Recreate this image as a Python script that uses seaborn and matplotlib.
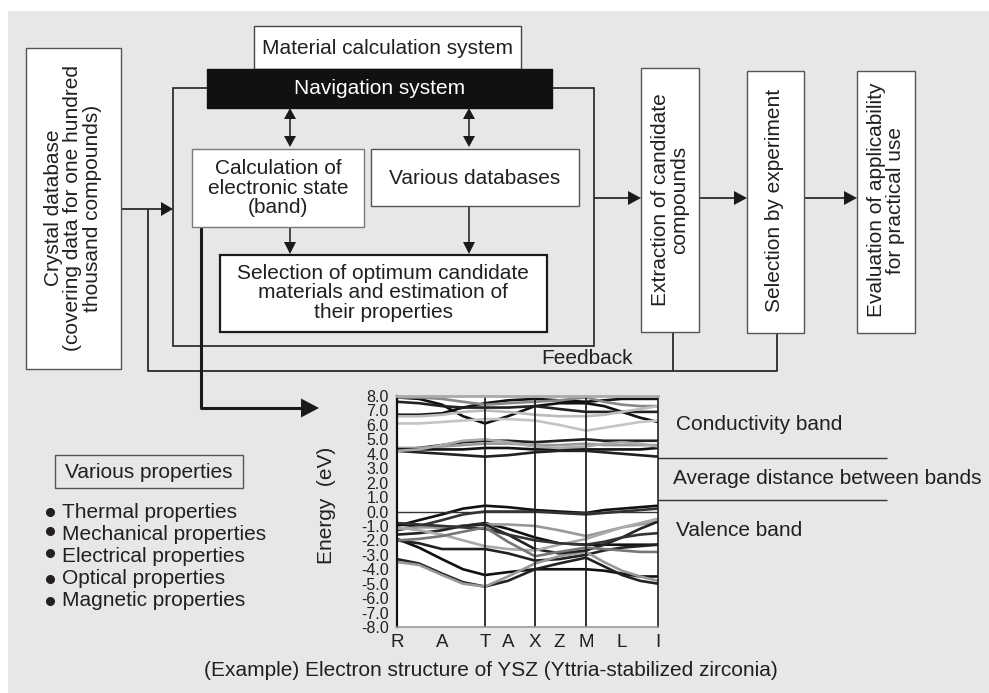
import numpy as np
import pandas as pd
import matplotlib.pyplot as plt
import seaborn as sns
from matplotlib.patches import Rectangle, Polygon

# k-path positions along R-T-X-M-I and symmetry labels
k_path = [0, 22, 45, 66, 88, 111, 138, 162, 189, 207, 225, 243, 261]
k_ticks = [0, 45, 88, 111, 138, 162, 189, 225, 261]
k_labels = ['R', 'A', 'T', 'A', 'X', 'Z', 'M', 'L', 'I']
k_lines = [88, 138, 189]
e_ticks = [8.0, 7.0, 6.0, 5.0, 4.0, 3.0, 2.0, 1.0, 0.0,
           -1.0, -2.0, -3.0, -4.0, -5.0, -6.0, -7.0, -8.0]

# conduction bands (eV)
cb1 = [6.7, 6.7, 6.8, 7.2, 7.5, 7.7, 7.8, 7.7, 7.6, 7.7, 7.8, 7.8, 7.8]
cb2 = [7.9, 7.8, 7.4, 6.6, 6.1, 6.6, 7.3, 7.5, 7.5, 7.3, 6.9, 6.5, 6.2]
cb3 = [7.6, 7.5, 7.3, 7.2, 7.2, 7.2, 7.3, 7.1, 6.9, 6.9, 6.9, 6.9, 6.9]
cb4 = [7.9, 7.9, 7.8, 7.6, 7.4, 7.5, 7.6, 7.7, 7.9, 7.6, 7.4, 7.3, 7.3]
cb5 = [6.1, 6.1, 6.2, 6.3, 6.4, 6.4, 6.3, 6.0, 5.6, 5.8, 6.0, 6.2, 6.3]
cb6 = [6.6, 6.6, 6.7, 6.9, 7.0, 6.9, 6.7, 6.6, 6.6, 6.7, 6.9, 7.1, 7.3]
# 4-5 eV bands
mb1 = [4.3, 4.4, 4.6, 4.8, 4.9, 4.9, 4.8, 4.9, 5.0, 4.9, 4.9, 4.9, 4.9]
mb2 = [4.4, 4.4, 4.5, 4.6, 4.7, 4.7, 4.6, 4.6, 4.7, 4.6, 4.6, 4.6, 4.6]
mb3 = [4.3, 4.3, 4.3, 4.3, 4.4, 4.4, 4.3, 4.3, 4.3, 4.3, 4.3, 4.3, 4.4]
mb4 = [4.2, 4.1, 4.0, 3.9, 3.8, 3.9, 4.1, 4.2, 4.2, 4.1, 4.0, 3.9, 3.8]
mb5 = [4.2, 4.3, 4.6, 4.9, 5.0, 4.8, 4.5, 4.4, 4.5, 4.7, 4.8, 4.7, 4.5]
# valence bands
vb1 = [-1.0, -0.6, -0.2, 0.2, 0.4, 0.3, 0.1, 0.0, -0.1, 0.1, 0.2, 0.3, 0.4]
vb2 = [-1.3, -1.0, -0.6, -0.2, 0.0, 0.0, 0.0, -0.1, -0.2, -0.1, 0.0, 0.1, 0.2]
vb3 = [-0.9, -1.0, -1.1, -1.0, -0.8, -1.2, -1.8, -2.2, -2.3, -2.3, -2.3, -2.3, -2.3]
vb4 = [-1.2, -1.1, -1.1, -1.0, -0.9, -0.9, -1.0, -1.3, -1.7, -1.4, -1.1, -0.9, -0.7]
vb5 = [-1.9, -2.5, -3.3, -4.0, -4.4, -4.2, -4.0, -4.0, -4.0, -4.1, -4.3, -4.5, -4.5]
vb6 = [-2.0, -2.2, -2.6, -2.6, -2.6, -2.9, -3.4, -3.3, -3.0, -2.7, -2.5, -2.4, -2.3]
vb7 = [-3.3, -3.6, -4.3, -4.9, -5.2, -4.8, -4.0, -3.6, -3.2, -3.8, -4.4, -4.8, -5.0]
vb8 = [-3.5, -3.7, -4.4, -5.0, -5.2, -4.5, -3.6, -3.1, -2.8, -3.5, -4.1, -4.5, -4.8]
vb9 = [-1.6, -1.5, -1.3, -1.0, -0.9, -1.6, -2.6, -2.9, -2.7, -2.3, -1.8, -1.2, -0.7]
vb10 = [-1.1, -1.3, -1.6, -2.0, -2.4, -2.6, -2.7, -2.3, -1.9, -1.5, -1.1, -0.8, -0.5]
vb11 = [-0.8, -0.9, -1.0, -1.1, -1.2, -1.6, -2.0, -2.2, -2.3, -2.1, -1.8, -1.6, -1.5]
vb12 = [-2.0, -1.9, -1.7, -1.4, -1.1, -2.1, -3.1, -2.8, -2.5, -2.6, -2.7, -2.8, -2.8]

bands = {'cb1': cb1, 'cb2': cb2, 'cb3': cb3, 'cb4': cb4, 'cb5': cb5, 'cb6': cb6,
         'mb1': mb1, 'mb2': mb2, 'mb3': mb3, 'mb4': mb4, 'mb5': mb5,
         'vb1': vb1, 'vb2': vb2, 'vb3': vb3, 'vb4': vb4, 'vb5': vb5, 'vb6': vb6,
         'vb7': vb7, 'vb8': vb8, 'vb9': vb9, 'vb10': vb10, 'vb11': vb11, 'vb12': vb12}
band_colors = {'cb1': '#111111', 'cb2': '#111111', 'cb3': '#222222', 'cb4': '#888888',
               'cb5': '#c4c4c4', 'cb6': '#bbbbbb',
               'mb1': '#222222', 'mb2': '#999999', 'mb3': '#111111', 'mb4': '#222222',
               'mb5': '#aaaaaa',
               'vb1': '#111111', 'vb2': '#333333', 'vb3': '#111111', 'vb4': '#999999',
               'vb5': '#111111', 'vb6': '#222222', 'vb7': '#222222', 'vb8': '#999999',
               'vb9': '#222222', 'vb10': '#aaaaaa', 'vb11': '#333333', 'vb12': '#777777'}

properties = ['Thermal properties', 'Mechanical properties', 'Electrical properties',
              'Optical properties', 'Magnetic properties']

df = pd.DataFrame([(name, k, e) for name, vals in bands.items()
                   for k, e in zip(k_path, vals)], columns=['band', 'k', 'energy'])

sns.set_theme(style='white')
plt.rcParams['font.family'] = ['Liberation Sans', 'DejaVu Sans']

W, H = 989, 693
INK = '#231f20'
FS = 15

fig = plt.figure(figsize=(W / 100, H / 100), dpi=100, facecolor='white')
ax = fig.add_axes([0, 0, 1, 1])
ax.set_xlim(0, W)
ax.set_ylim(H, 0)
ax.axis('off')


def box(x0, y0, x1, y1, ec='#555555', fc='white', lw=1.0, z=2):
    ax.add_patch(Rectangle((x0, y0), x1 - x0, y1 - y0, fc=fc, ec=ec, lw=lw, zorder=z))


def path(xs, ys, lw=1.2, color='#2a2a2a', z=1):
    ax.plot(xs, ys, color=color, lw=lw, solid_capstyle='butt', zorder=z)


def head(x, y, d, L=12, w=7, color='#1a1a1a'):
    if d == 'r':
        pts = [(x, y), (x - L, y - w), (x - L, y + w)]
    elif d == 'l':
        pts = [(x, y), (x + L, y - w), (x + L, y + w)]
    elif d == 'd':
        pts = [(x, y), (x - w, y - L), (x + w, y - L)]
    else:
        pts = [(x, y), (x - w, y + L), (x + w, y + L)]
    ax.add_patch(Polygon(pts, closed=True, fc=color, ec='none', zorder=5))


def txt(x, y, s, **kw):
    kw.setdefault('ha', 'center')
    kw.setdefault('va', 'center')
    kw.setdefault('fontsize', FS)
    kw.setdefault('color', INK)
    ax.text(x, y, s, zorder=6, **kw)


# background panel
ax.add_patch(Rectangle((8, 11), W - 8, H - 11, fc='#e6e7e8', ec='none', zorder=0))

# outer frame of the calculation system
ax.add_patch(Rectangle((173, 88), 594 - 173, 346 - 88, fc='none', ec='#222222',
                       lw=1.2, zorder=1))
box(254, 26, 521, 69, ec='#444444')
txt(387, 48, 'Material calculation system')
box(207, 69, 552, 108, ec='#111111', fc='#111111', z=3)
txt(380, 88, 'Navigation system', color='white')

# double arrows
for x in (290, 469):
    path([x, x], [118, 137], lw=1.2)
    head(x, 108, 'u', L=11, w=6)
    head(x, 147, 'd', L=11, w=6)

box(192, 149, 364, 227, ec='#7a7a7a')
txt(278, 188, 'Calculation of\nelectronic state\n(band)', linespacing=1.05)
box(371, 149, 579, 206, ec='#555555')
txt(475, 178, 'Various databases')

path([290, 290], [227, 242], lw=1.2)
head(290, 254, 'd', L=12, w=6)
path([469, 469], [206, 242], lw=1.2)
head(469, 254, 'd', L=12, w=6)

box(220, 255, 547, 332, ec='#1a1a1a', lw=1.6)
txt(383, 293, 'Selection of optimum candidate\nmaterials and estimation of\ntheir properties',
    linespacing=1.05)

# crystal database
box(26, 48, 121, 369, ec='#555555')
txt(73, 208, 'Crystal database\n(covering data for one hundred\nthousand compounds)',
    rotation=90, linespacing=1.05)
path([121, 161], [209, 209], lw=1.3)
head(173, 209, 'r', L=12, w=7)

# feedback loop
path([148, 148, 777, 777], [209, 371, 371, 333], lw=1.3)
path([673, 673], [371, 332], lw=1.3)
txt(541, 358, 'Feedback', ha='left')

# right-hand chain
box(641, 68, 699, 332)
txt(670, 200, 'Extraction of candidate\ncompounds', rotation=90, linespacing=1.05)
box(747, 71, 804, 333)
txt(775, 200, 'Selection by experiment', rotation=90)
box(857, 71, 915, 333)
txt(886, 200, 'Evaluation of applicability\nfor practical use', rotation=90, linespacing=1.05)
for x0, x1 in ((594, 641), (699, 747), (804, 857)):
    path([x0, x1 - 12], [198, 198], lw=1.3)
    head(x1, 198, 'r', L=13, w=7)

# link from band calculation to the band diagram
path([201, 201, 302], [227, 408, 408], lw=2.2, color='#1a1a1a')
head(319, 408, 'r', L=18, w=9.5)

# various properties
box(55, 455, 243, 488, ec='#555555', fc='none')
txt(149, 472, 'Various properties')
bullet_y = [512, 531, 553, 579, 601]
text_y = [512, 534, 557, 579, 601]
for by, ty, name in zip(bullet_y, text_y, properties):
    ax.plot([50], [by], 'o', ms=5.5, color=INK, zorder=6)
    txt(62, ty, name, ha='left')

# right annotations
txt(676, 424, 'Conductivity band', ha='left')
txt(673, 479, 'Average distance between bands', ha='left')
txt(676, 530, 'Valence band', ha='left')
path([658, 887], [458, 458], lw=1.0, color='#333333')
path([658, 887], [500, 500], lw=1.0, color='#333333')

txt(327, 505, 'Energy  (eV)', rotation=90)
txt(204, 671, '(Example) Electron structure of YSZ (Yttria-stabilized zirconia)', ha='left')

# band structure panel
bx = fig.add_axes([397 / W, 1 - 627 / H, 261 / W, 231 / H], zorder=3)
bx.set_facecolor('white')
sns.lineplot(data=df, x='k', y='energy', hue='band', palette=band_colors,
             estimator=None, sort=False, legend=False, lw=1.9, ax=bx)
bx.axhline(0, color='#333333', lw=1.0)
for k in k_lines:
    bx.axvline(k, color='#222222', lw=1.3)
bx.set_xlim(0, 261)
bx.set_ylim(-8, 8)
bx.set_xticks(k_ticks)
bx.set_xticklabels(k_labels)
bx.set_yticks(e_ticks)
bx.set_yticklabels([f'{v:.1f}' for v in e_ticks])
bx.set_xlabel('')
bx.set_ylabel('')
bx.tick_params(axis='both', length=0, colors=INK)
bx.tick_params(axis='y', labelsize=11.5, pad=6)
bx.tick_params(axis='x', labelsize=13.5, pad=5)
bx.spines['left'].set_color('#111111')
bx.spines['left'].set_linewidth(1.6)
bx.spines['right'].set_color('#222222')
bx.spines['right'].set_linewidth(1.2)
bx.spines['top'].set_color('#aaaaaa')
bx.spines['top'].set_linewidth(2.0)
bx.spines['bottom'].set_color('#999999')
bx.spines['bottom'].set_linewidth(1.2)

fig.savefig('out.png', dpi=100, facecolor='white')
